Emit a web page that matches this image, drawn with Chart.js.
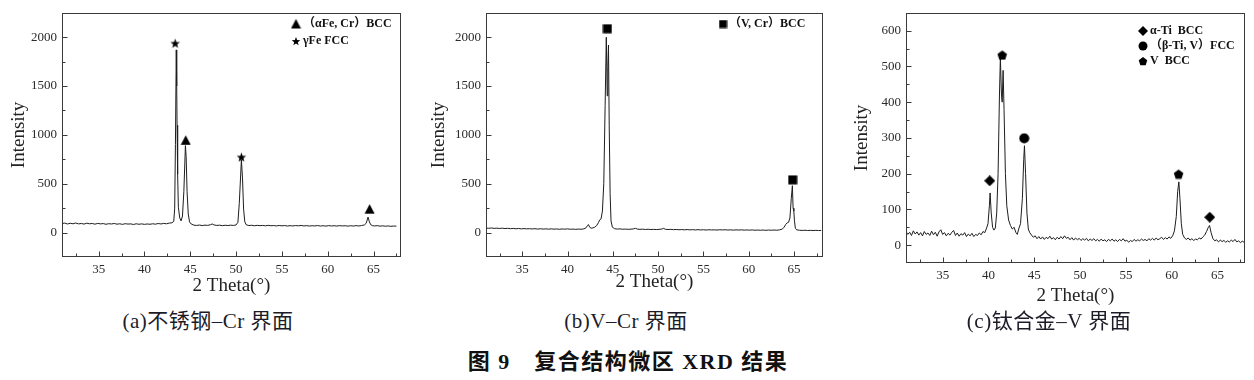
<!DOCTYPE html>
<html><head><meta charset="utf-8">
<script src="https://cdn.jsdelivr.net/npm/chart.js@4.4.1/dist/chart.umd.min.js"></script>
<style>
html,body{margin:0;padding:0;background:#fff;}
body{width:1254px;height:380px;overflow:hidden;position:relative;font-family:'Liberation Serif','Noto Sans CJK SC',serif;}
canvas.p{position:absolute;top:0;}
.cap{position:absolute;white-space:nowrap;transform:translateX(-50%);line-height:1;color:#1c1c28;}
</style></head><body>
<canvas id="ca" class="p" style="left:0px" width="410" height="300"></canvas>
<canvas id="cb" class="p" style="left:420px" width="415" height="300"></canvas>
<canvas id="cc" class="p" style="left:840px" width="414" height="315"></canvas>
<div class="cap" style="left:208px;top:311px;font-size:21px;letter-spacing:0.5px">(a)不锈钢–Cr 界面</div>
<div class="cap" style="left:626px;top:311px;font-size:21px;letter-spacing:0.5px">(b)V–Cr 界面</div>
<div class="cap" style="left:1049px;top:311px;font-size:21px;letter-spacing:0.5px">(c)钛合金–V 界面</div>
<div class="cap" style="left:628px;top:351px;font-size:22px;font-weight:bold;color:#111;letter-spacing:1.5px">图 9　复合结构微区 XRD 结果</div>
<script>
// ---------- DATA ----------
const xTicks = [35, 40, 45, 50, 55, 60, 65];
const xMinorTicks = [32.5, 37.5, 42.5, 47.5, 52.5, 57.5, 62.5, 67.5];
const yTicksAB = [0, 500, 1000, 1500, 2000];
const yMinorAB = [250, 750, 1250, 1750];
const yTicksC = [0, 100, 200, 300, 400, 500, 600];
const yMinorC = [50, 150, 250, 350, 450, 550];

const thetaA = [31.0,31.3,31.6,31.9,32.2,32.5,32.8,33.1,33.4,33.7,34.0,34.3,34.6,34.9,35.2,35.5,35.8,36.1,36.4,36.7,37.0,37.3,37.6,37.9,38.2,38.5,38.8,39.1,39.4,39.7,40.0,40.3,40.6,40.9,41.2,41.5,41.8,42.1,42.4,42.7,43.0,43.2,43.3,43.38,43.47,43.52,43.56,43.62,43.7,43.85,44.0,44.15,44.3,44.47,44.55,44.65,44.78,44.92,45.1,45.4,45.7,46.0,46.3,46.6,46.9,47.2,47.4,47.6,47.9,48.2,48.5,48.8,49.1,49.4,49.7,50.0,50.2,50.35,50.58,50.7,50.82,50.95,51.1,51.4,51.7,52.0,52.3,52.6,52.9,53.2,53.5,53.8,54.1,54.4,54.7,55.0,55.3,55.6,55.9,56.2,56.5,56.8,57.1,57.4,57.7,58.0,58.3,58.6,58.9,59.2,59.5,59.8,60.1,60.4,60.7,61.0,61.3,61.6,61.9,62.2,62.5,62.8,63.1,63.4,63.7,64.0,64.2,64.4,64.55,64.7,64.9,65.1,65.4,65.7,66.0,66.3,66.6,66.9,67.2,67.5,67.8,68.0];
const intensityA = [92,97,88,95,90,98,89,93,87,96,90,93,86,94,89,92,85,91,88,93,86,90,84,91,87,89,83,90,85,89,84,88,85,90,86,93,88,94,90,97,100,115,250,900,1870,1500,1100,600,260,150,120,170,420,890,780,420,190,110,88,76,73,77,72,76,74,80,88,78,73,76,71,75,72,76,73,78,105,300,745,560,240,110,80,72,75,70,74,71,73,69,74,70,72,68,73,69,72,67,71,68,72,69,73,68,71,67,70,68,72,67,70,66,71,68,70,67,71,68,70,66,70,67,71,68,72,78,95,158,110,80,71,68,71,66,69,65,68,64,67,66];

const thetaB = [31.0,31.3,31.6,31.9,32.2,32.5,32.8,33.1,33.4,33.7,34.0,34.3,34.6,34.9,35.2,35.5,35.8,36.1,36.4,36.7,37.0,37.3,37.6,37.9,38.2,38.5,38.8,39.1,39.4,39.7,40.0,40.3,40.6,40.9,41.2,41.5,41.8,42.0,42.2,42.3,42.45,42.6,42.8,43.0,43.2,43.4,43.55,43.7,43.85,44.0,44.15,44.28,44.38,44.45,44.52,44.6,44.7,44.8,44.95,45.2,45.5,45.8,46.1,46.4,46.7,47.0,47.3,47.5,47.7,48.0,48.3,48.6,48.9,49.2,49.5,49.8,50.1,50.4,50.6,50.8,51.1,51.4,51.7,52.0,52.3,52.6,52.9,53.2,53.5,53.8,54.1,54.4,54.7,55.0,55.3,55.6,55.9,56.2,56.5,56.8,57.1,57.4,57.7,58.0,58.3,58.6,58.9,59.2,59.5,59.8,60.1,60.4,60.7,61.0,61.3,61.6,61.9,62.2,62.5,62.8,63.1,63.4,63.7,63.9,64.1,64.25,64.4,64.55,64.7,64.82,64.9,64.98,65.05,65.15,65.3,65.6,65.9,66.2,66.5,66.8,67.1,67.4,67.7,68.0];
const intensityB = [46,44,47,43,45,42,45,41,44,40,43,39,42,38,41,38,40,37,40,36,39,36,38,35,38,35,37,34,37,35,38,34,36,33,36,34,38,45,70,82,55,45,48,55,70,100,130,140,220,500,1300,2000,1400,1700,1920,1100,400,120,55,40,36,38,34,36,33,35,38,44,36,33,35,32,34,31,33,31,33,36,43,34,31,33,30,32,29,31,28,31,28,30,27,30,27,29,26,29,27,28,26,29,27,29,26,28,25,28,26,28,25,27,25,27,24,26,24,26,23,26,24,26,24,28,35,55,85,100,105,150,350,480,250,220,120,45,28,24,22,24,21,23,21,23,21,22];

const thetaC = [31.0,31.2,31.4,31.6,31.8,32.0,32.2,32.4,32.6,32.8,33.0,33.2,33.4,33.6,33.8,34.0,34.2,34.4,34.6,34.8,35.0,35.2,35.4,35.6,35.8,36.0,36.2,36.4,36.6,36.8,37.0,37.2,37.4,37.6,37.8,38.0,38.2,38.4,38.6,38.8,39.0,39.2,39.4,39.6,39.8,39.95,40.1,40.18,40.3,40.45,40.6,40.75,40.9,41.05,41.2,41.3,41.42,41.5,41.6,41.7,41.85,42.0,42.2,42.4,42.6,42.8,43.0,43.15,43.3,43.5,43.7,43.85,43.93,44.05,44.2,44.35,44.5,44.7,44.9,45.1,45.3,45.5,45.7,45.9,46.1,46.3,46.5,46.7,46.9,47.1,47.3,47.5,47.7,47.9,48.1,48.3,48.5,48.7,48.9,49.1,49.3,49.5,49.7,49.9,50.1,50.3,50.5,50.7,50.9,51.1,51.3,51.5,51.7,51.9,52.1,52.3,52.5,52.7,52.9,53.1,53.3,53.5,53.7,53.9,54.1,54.3,54.5,54.7,54.9,55.1,55.3,55.5,55.7,55.9,56.1,56.3,56.5,56.7,56.9,57.1,57.3,57.5,57.7,57.9,58.1,58.3,58.5,58.7,58.9,59.1,59.3,59.5,59.7,59.9,60.1,60.3,60.5,60.65,60.78,60.9,61.05,61.2,61.4,61.6,61.8,62.0,62.2,62.4,62.6,62.8,63.0,63.2,63.4,63.6,63.8,64.0,64.13,64.3,64.5,64.7,64.9,65.1,65.3,65.5,65.7,65.9,66.1,66.3,66.5,66.7,66.9,67.1,67.3,67.5,67.7,67.9];
const intensityC = [38,30,36,27,40,31,37,28,35,26,38,30,34,27,39,29,36,25,37,43,30,35,26,33,28,36,41,27,34,25,32,28,35,24,31,26,33,24,30,27,34,29,38,35,48,60,110,146,90,50,42,48,90,200,420,524,420,400,489,380,200,110,70,55,45,50,35,30,45,60,130,240,278,200,90,45,35,28,22,26,18,24,17,23,16,22,18,25,17,21,15,22,17,24,18,26,19,22,15,21,14,20,15,19,13,18,14,19,12,17,13,18,12,16,11,17,12,15,10,16,12,17,11,15,10,16,12,18,11,14,8,13,10,16,11,15,12,17,13,16,12,18,14,19,14,20,15,18,22,16,21,17,23,19,26,40,80,150,177,130,60,30,20,16,20,14,18,13,17,15,20,17,23,28,38,50,55,35,18,12,15,9,14,10,13,8,12,9,14,10,16,9,12,7,11,8];

// peak markers
const markA_x = [43.35, 44.5, 50.58, 64.57];
const markA_y = [1940, 945, 775, 240];
const markA_s = ['star', 'tri', 'star', 'tri'];
const markB_x = [44.4, 64.85];
const markB_y = [2087, 540];
const markB_s = ['sq', 'sq'];
const markC_x = [40.14, 41.5, 43.9, 60.75, 64.15];
const markC_y = [180, 532, 299, 199, 78];
const markC_s = ['dia', 'pent', 'circ', 'pent', 'dia'];

const legendA = [['tri', '（αFe, Cr）BCC'], ['star', 'γFe FCC']];
const legendB = [['sq', '（V, Cr）BCC']];
const legendC = [['dia', 'α-Ti  BCC'], ['circ', '（β-Ti, V）FCC'], ['pent', 'V  BCC']];

// ---------- SYMBOLS ----------
function sym(kind, s) {
  const c = document.createElement('canvas');
  c.width = s; c.height = s;
  const g = c.getContext('2d');
  g.fillStyle = '#000';
  const m = s / 2, r = s / 2 - 0.5;
  g.beginPath();
  if (kind === 'tri') {
    g.moveTo(m, 0.5); g.lineTo(s - 0.5, s - 1); g.lineTo(0.5, s - 1); g.closePath();
  } else if (kind === 'sq') {
    g.rect(0.5, 0.5, s - 1, s - 1);
  } else if (kind === 'dia') {
    g.moveTo(m, 0); g.lineTo(s, m); g.lineTo(m, s); g.lineTo(0, m); g.closePath();
  } else if (kind === 'circ') {
    g.arc(m, m, r, 0, Math.PI * 2);
  } else if (kind === 'pent') {
    for (let i = 0; i < 5; i++) {
      const a = -Math.PI / 2 + i * 2 * Math.PI / 5;
      const px = m + r * Math.cos(a), py = m + 0.6 + r * Math.sin(a);
      i ? g.lineTo(px, py) : g.moveTo(px, py);
    }
    g.closePath();
  } else if (kind === 'star') {
    for (let i = 0; i < 10; i++) {
      const a = -Math.PI / 2 + i * Math.PI / 5;
      const rr = i % 2 ? r * 0.42 : r;
      const px = m + rr * Math.cos(a), py = m + 0.6 + rr * Math.sin(a);
      i ? g.lineTo(px, py) : g.moveTo(px, py);
    }
    g.closePath();
  }
  g.fill();
  return c;
}
const SYM = { tri: sym('tri', 11), sq: sym('sq', 10), dia: sym('dia', 11), circ: sym('circ', 11), pent: sym('pent', 11), star: sym('star', 11) };
const SYML = { tri: sym('tri', 11), sq: sym('sq', 9), dia: sym('dia', 10), circ: sym('circ', 10), pent: sym('pent', 10), star: sym('star', 10) };

const SERIF = "'Liberation Serif','Times New Roman',serif";
const TXT = '#2a2a2a';

function makeChart(id, cfg) {
  const el = document.getElementById(id);
  const W = el.width, H = el.height;
  const A = cfg.area;
  const deco = {
    id: 'deco' + id,
    afterDraw(chart) {
      const ctx = chart.ctx, ca = chart.chartArea;
      const sx = chart.scales.x, sy = chart.scales.y;
      ctx.save();
      ctx.strokeStyle = '#3a3a3a';
      ctx.lineWidth = 1;
      ctx.strokeRect(Math.round(ca.left) + 0.5, Math.round(ca.top) + 0.5, Math.round(ca.right - ca.left) - 1, Math.round(ca.bottom - ca.top) - 1);
      ctx.beginPath();
      const bY = Math.round(ca.bottom) - 0.5, lX = Math.round(ca.left) + 0.5;
      xTicks.forEach(v => { const px = Math.round(sx.getPixelForValue(v)) + 0.5; ctx.moveTo(px, bY); ctx.lineTo(px, bY - 5); });
      xMinorTicks.forEach(v => { const px = Math.round(sx.getPixelForValue(v)) + 0.5; if (px < ca.right - 2) { ctx.moveTo(px, bY); ctx.lineTo(px, bY - 3); } });
      cfg.yTicks.forEach(v => { const py = Math.round(sy.getPixelForValue(v)) + 0.5; ctx.moveTo(lX, py); ctx.lineTo(lX + 5, py); });
      cfg.yMinor.forEach(v => { const py = Math.round(sy.getPixelForValue(v)) + 0.5; ctx.moveTo(lX, py); ctx.lineTo(lX + 3, py); });
      ctx.stroke();
      // legend
      ctx.fillStyle = '#111';
      ctx.font = "bold 12px 'Liberation Serif','Noto Sans CJK SC',serif";
      ctx.textBaseline = 'middle';
      ctx.textAlign = 'left';
      cfg.legend.forEach((it, i) => {
        const s = SYML[it[0]];
        const y = cfg.leg.y + i * cfg.leg.dy;
        ctx.drawImage(s, cfg.leg.x - s.width / 2, y - s.height / 2);
        ctx.fillText(it[1], cfg.leg.tx, y);
      });
      ctx.restore();
    }
  };
  return new Chart(el, {
    type: 'line',
    data: {
      datasets: [
        { data: cfg.theta.map((x, i) => ({ x: x, y: cfg.intensity[i] })), borderColor: '#1e1e1e', borderWidth: 1, pointRadius: 0, tension: 0, fill: false, order: 2 },
        { type: 'scatter', data: cfg.mx.map((x, i) => ({ x: x, y: cfg.my[i] })), pointStyle: cfg.ms.map(s => SYM[s]), pointRadius: 5, order: 1 }
      ]
    },
    options: {
      responsive: false, animation: false, events: [],
      layout: { padding: { left: 0, top: A.top, right: W - A.right, bottom: 0 } },
      plugins: { legend: { display: false }, tooltip: { enabled: false } },
      scales: {
        x: {
          type: 'linear', min: cfg.xmin, max: cfg.xmax,
          afterBuildTicks: s => { s.ticks = xTicks.map(v => ({ value: v })); },
          afterFit: s => { s.height = H - A.bottom; },
          grid: { display: false, drawTicks: false }, border: { display: false },
          ticks: { padding: 5, color: TXT, font: { family: SERIF, size: 13 }, maxRotation: 0, autoSkip: false, callback: v => String(v) },
          title: { display: true, text: '2 Theta(°)', color: '#222', font: { family: SERIF, size: 19 }, padding: { top: 0, bottom: cfg.xtPad } }
        },
        y: {
          type: 'linear', min: cfg.ymin, max: cfg.ymax,
          afterBuildTicks: s => { s.ticks = cfg.yTicks.map(v => ({ value: v })); },
          afterFit: s => { s.width = A.left; },
          grid: { display: false, drawTicks: false }, border: { display: false },
          ticks: { padding: 5, color: TXT, font: { family: SERIF, size: 13 }, autoSkip: false, callback: v => String(v) },
          title: { display: true, text: 'Intensity', color: '#222', font: { family: SERIF, size: 19 }, padding: { top: cfg.ytPad, bottom: 0 } }
        }
      }
    },
    plugins: [deco]
  });
}

makeChart('ca', { theta: thetaA, intensity: intensityA, mx: markA_x, my: markA_y, ms: markA_s,
  xmin: 31, xmax: 68, ymin: -250, ymax: 2250, yTicks: yTicksAB, yMinor: yMinorAB,
  area: { left: 62, right: 401, top: 5, bottom: 257 }, xtPad: 3, ytPad: 8,
  legend: legendA, leg: { x: 296, y: 24, dy: 17, tx: 303 } });
makeChart('cb', { theta: thetaB, intensity: intensityB, mx: markB_x, my: markB_y, ms: markB_s,
  xmin: 31, xmax: 68.2, ymin: -250, ymax: 2250, yTicks: yTicksAB, yMinor: yMinorAB,
  area: { left: 66, right: 403, top: 4, bottom: 257 }, xtPad: 7, ytPad: 8,
  legend: legendB, leg: { x: 303, y: 24, dy: 17, tx: 309 } });
makeChart('cc', { theta: thetaC, intensity: intensityC, mx: markC_x, my: markC_y, ms: markC_s,
  xmin: 31, xmax: 68, ymin: -50, ymax: 650, yTicks: yTicksC, yMinor: yMinorC,
  area: { left: 66, right: 405, top: 11, bottom: 263 }, xtPad: 8, ytPad: 11,
  legend: legendC, leg: { x: 303, y: 31, dy: 15, tx: 310 } });
</script>
</body></html>
